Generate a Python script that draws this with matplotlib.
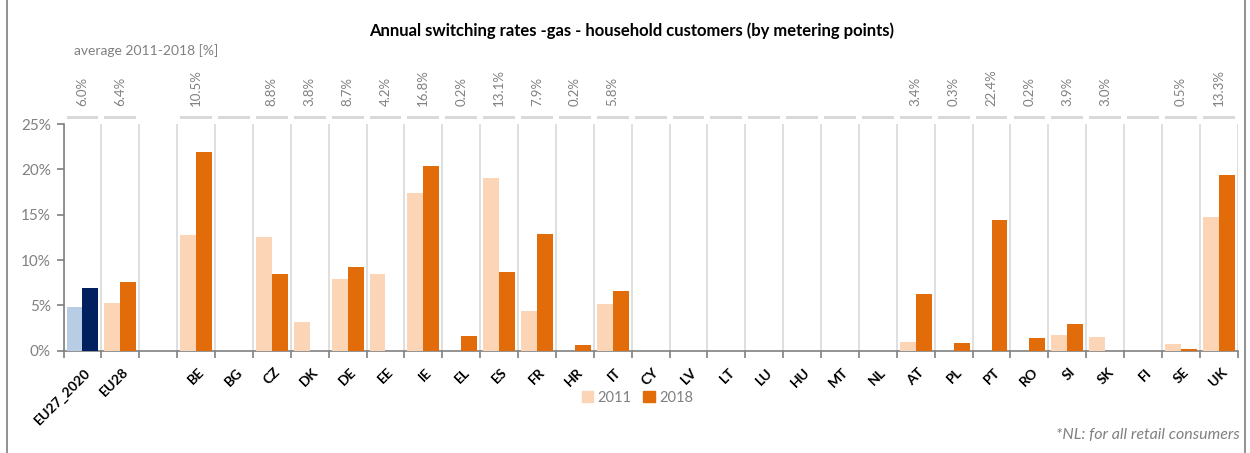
"""Annual switching rates, gas, household customers: 2011 vs 2018 bars per country."""

import matplotlib

matplotlib.use("Agg")
import matplotlib.pyplot as plt
import matplotlib.transforms as mtransforms
import numpy as np
from matplotlib.patches import Patch, Rectangle

plt.rcParams["font.family"] = ["Lato", "DejaVu Sans"]

COUNTRIES = [
    "EU27_2020", "EU28", "", "BE", "BG", "CZ", "DK", "DE", "EE", "IE", "EL",
    "ES", "FR", "HR", "IT", "CY", "LV", "LT", "LU", "HU", "MT", "NL", "AT",
    "PL", "PT", "RO", "SI", "SK", "FI", "SE", "UK",
]
RATE_2011 = [
    4.85, 5.3, 0, 12.75, 0, 12.5, 3.15, 7.9, 8.5, 17.35, 0,
    19.0, 4.4, 0, 5.2, 0, 0, 0, 0, 0, 0, 0, 1.0,
    0, 0, 0, 1.75, 1.5, 0, 0.75, 14.8,
]
RATE_2018 = [
    6.9, 7.6, 0, 21.95, 0, 8.5, 0, 9.25, 0, 20.4, 1.6,
    8.7, 12.9, 0.6, 6.55, 0, 0, 0, 0, 0, 0, 0, 6.25,
    0.85, 14.4, 1.4, 2.95, 0, 0, 0.2, 19.4,
]
AVERAGE_LABELS = [
    "6.0%", "6.4%", None, "10.5%", "", "8.8%", "3.8%", "8.7%", "4.2%", "16.8%", "0.2%",
    "13.1%", "7.9%", "0.2%", "5.8%", "", "", "", "", "", "", "", "3.4%",
    "0.3%", "22.4%", "0.2%", "3.9%", "3.0%", "", "0.5%", "13.3%",
]

LIGHT_ORANGE = "#FBD5B5"
ORANGE = "#E36C0A"
LIGHT_BLUE = "#B8CCE4"
NAVY = "#002060"
GRID_GREY = "#D9D9D9"
TEXT_GREY = "#808080"


def main() -> None:
    fig = plt.figure(figsize=(12.5, 4.53), dpi=100)
    ax = fig.add_axes([0.0508, 0.226, 0.9394, 0.5])

    x = np.arange(len(COUNTRIES))
    width = 0.42
    colors_2011 = [LIGHT_BLUE] + [LIGHT_ORANGE] * (len(x) - 1)
    colors_2018 = [NAVY] + [ORANGE] * (len(x) - 1)
    ax.bar(x - width / 2, RATE_2011, width, color=colors_2011, zorder=3)
    ax.bar(x + width / 2, RATE_2018, width, color=colors_2018, zorder=3)

    ax.set_xlim(-0.5, len(x) - 0.5)
    ax.set_ylim(0, 25)
    ax.set_yticks(range(0, 26, 5))
    ax.set_yticklabels([f"{v}%" for v in range(0, 26, 5)], color=TEXT_GREY, fontsize=11)

    # category separators
    for b in np.arange(-0.5, len(x), 1.0):
        ax.axvline(b, color=GRID_GREY, linewidth=1.2, zorder=1)

    ax.set_xticks(np.arange(-0.5, len(x), 1.0), minor=False)
    ax.set_xticklabels([])
    ax.tick_params(axis="x", length=5, color=TEXT_GREY, width=1.2)
    ax.tick_params(axis="y", length=5, color=TEXT_GREY, width=1.2, pad=4)

    offset = mtransforms.ScaledTranslation(1.5 / 72, 0, fig.dpi_scale_trans)
    for xi, name in zip(x, COUNTRIES):
        ax.text(xi, -1.7, name, rotation=45, rotation_mode="anchor",
                ha="right", va="top", fontsize=10, fontweight="bold",
                transform=ax.transData + offset)

    for side in ("top", "right"):
        ax.spines[side].set_visible(False)
    for side in ("left", "bottom"):
        ax.spines[side].set_color(TEXT_GREY)
        ax.spines[side].set_linewidth(1.2)

    # averages band above the plot
    band = mtransforms.blended_transform_factory(ax.transData, ax.transAxes)
    for xi, label in zip(x, AVERAGE_LABELS):
        if label is None:
            continue
        ax.add_patch(Rectangle((xi - 0.42, 1.024), 0.84, 0.013, transform=band,
                               color=GRID_GREY, clip_on=False, linewidth=0))
        if label:
            ax.text(xi, 1.08, label, rotation=90, ha="center", va="bottom",
                    color=TEXT_GREY, fontsize=9.5, transform=band)

    fig.text(0.059, 0.878, "average 2011-2018 [%]", color=TEXT_GREY, fontsize=10)
    fig.text(0.505, 0.92, "Annual switching rates -gas - household customers (by metering points)",
             ha="center", fontsize=12, fontweight="bold")

    handles = [Patch(color=LIGHT_ORANGE), Patch(color=ORANGE)]
    fig.legend(handles, ["2011", "2018"], loc="center", bbox_to_anchor=(0.51, 0.122),
               ncol=2, frameon=False, fontsize=10.5, labelcolor=TEXT_GREY,
               handlelength=0.8, handleheight=0.8, handletextpad=0.3, columnspacing=0.8)

    fig.text(0.992, 0.03, "*NL: for all retail consumers", ha="right",
             color=TEXT_GREY, fontsize=11.5, style="italic")

    fig.add_artist(Rectangle((0.0056, -0.01), 0.99, 1.02, transform=fig.transFigure,
                             fill=False, edgecolor="#7F7F7F", linewidth=1.2))

    fig.savefig("out.png", dpi=100)
    plt.close(fig)


if __name__ == "__main__":
    main()
